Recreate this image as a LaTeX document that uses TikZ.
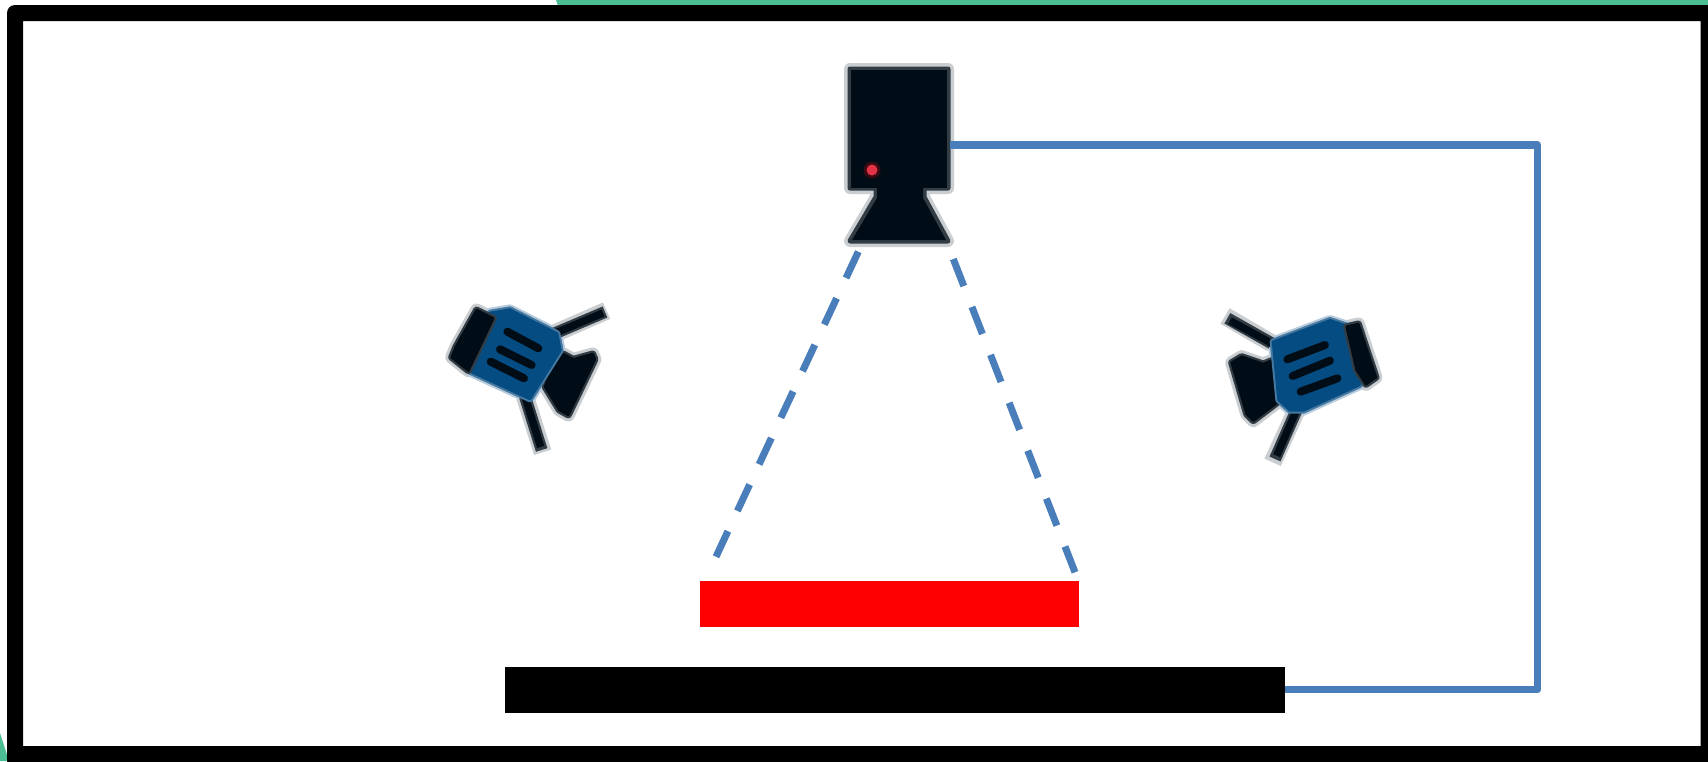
\documentclass[tikz,border=0pt]{standalone}
\definecolor{wire}{RGB}{74,126,187}
\definecolor{ink}{RGB}{1,13,22}
\definecolor{lampblue}{RGB}{4,76,130}
\definecolor{lampedge}{RGB}{70,120,160}
\definecolor{halo}{RGB}{203,206,209}
\definecolor{bluehalo}{RGB}{185,205,222}
\definecolor{rim}{RGB}{50,60,68}
\definecolor{teal}{RGB}{75,190,148}
\tikzset{
  x=1pt,y=-1pt,
  block/.style={inner sep=0pt,outer sep=0pt,draw=none,anchor=north west},
  wireline/.style={draw=wire,line width=7.5pt,line join=round},
  dashline/.style={draw=wire,line width=7pt,dash pattern=on 29pt off 22.4pt},
  haloshape/.style={draw=halo,line width=13pt,line join=round,fill=halo},
  rimshape/.style={draw=rim,line width=7pt,line join=round,fill=rim},
  inkshape/.style={fill=ink,draw=ink,line width=2.5pt,line join=round},
  rodhalo/.style={draw=halo,line width=18pt,line cap=butt},
  rodrim/.style={draw=rim,line width=12pt,line cap=butt},
  rodink/.style={draw=ink,line width=7.5pt,line cap=butt},
  lampstripe/.style={draw=ink,line width=8pt,line cap=round},
  bodyhalo/.style={draw=bluehalo,line width=10pt,line join=round},
  bodyedge/.style={draw=lampedge,line width=6pt,line join=round},
  bodyfill/.style={fill=lampblue,draw=lampblue,line width=2pt,line join=round},
}
\newcommand{\lampL}{%
  \def\lens{(375,235)--(400,222)--(430,238)--(488,222)--(495,238)--(415,405)--(388,390)--(345,320)--cycle}
  \def\bdy{(180,98)--(240,88)--(382,160)--(392,212)--(300,358)--(120,275)--cycle}
  \def\plate{(140,90)--(190,115)--(115,272)--(65,232)--(78,200)--cycle}
  \draw[rodhalo] (370,162)--(530,92); \draw[rodhalo] (285,350)--(338,517);
  \path[haloshape] \lens; \path[haloshape] \plate; \path[bodyhalo] \bdy;
  \draw[rodrim] (370,162)--(525,96);  \draw[rodrim] (285,350)--(335,510);
  \draw[rodink] (370,162)--(519,99);  \draw[rodink] (285,350)--(332,501);
  \path[rimshape] \lens; \path[inkshape] \lens;
  \path[bodyedge] \bdy; \path[bodyfill] \bdy;
  \path[rimshape] \plate; \path[inkshape] \plate;
  \draw[lampstripe] (232,155)--(325,205);
  \draw[lampstripe] (210,208)--(305,255);
  \draw[lampstripe] (182,245)--(282,295);
}
\newcommand{\lampR}{%
  \def\lens{(65,218)--(95,200)--(160,222)--(190,210)--(225,320)--(130,392)--(110,372)--cycle}
  \def\bdy{(188,155)--(360,90)--(420,110)--(450,285)--(280,362)--(240,362)--(205,330)--cycle}
  \def\plate{(410,110)--(445,102)--(498,262)--(468,283)--(440,240)--cycle}
  \draw[rodhalo] (185,160)--(45,78); \draw[rodhalo] (262,355)--(188,517);
  \path[haloshape] \lens; \path[haloshape] \plate; \path[bodyhalo] \bdy;
  \draw[rodrim] (185,160)--(52,85);  \draw[rodrim] (262,355)--(195,507);
  \draw[rodink] (185,160)--(60,92);  \draw[rodink] (262,355)--(200,497);
  \path[rimshape] \lens; \path[inkshape] \lens;
  \path[bodyedge] \bdy; \path[bodyfill] \bdy;
  \path[rimshape] \plate; \path[inkshape] \plate;
  \draw[lampstripe] (232,208)--(345,165);
  \draw[lampstripe] (248,258)--(360,212);
  \draw[lampstripe] (272,305)--(382,265);
}
\begin{document}
\begin{tikzpicture}[x=1pt,y=-1pt]
\useasboundingbox (0,0) rectangle (1708,761);
\fill[white] (0,0) rectangle (1708,761);
% green remnants at the edges
\fill[teal] (556,0)--(1708,0)--(1708,6)--(558,6)--cycle;
\fill[teal] (0,733)--(9,761)--(0,761)--cycle;
% frame
\fill[black,even odd rule] [rounded corners=8pt] (7,5) rectangle (1724,769) [sharp corners] (23,21) rectangle (1700.7,746);
% camera
\def\camout{(850,69)--(948,69)--(948,188)--(924,188)--(924,197)--(948,241)--(850,241)--(876,197)--(876,188)--(850,188)--cycle}
\path[draw=halo,line width=12pt,line join=round] \camout;
\path[fill=rim,draw=rim,line width=5pt,line join=round] \camout;
\node[block,fill=ink,minimum width=96pt,minimum height=118pt] (cam) at (851,70) {};
\path[fill=ink] (877,186)--(923,186)--(923,198)--(946,240)--(852,240)--(877,198)--cycle;
\node[circle,inner sep=0pt,minimum size=17pt,fill=red!22!ink] (led) at (872,170) {};
\node[circle,inner sep=0pt,minimum size=11pt,fill={rgb,255:red,225;green,50;blue,70}] (ledcore) at (872,170) {};
% bars
\node[block,fill=red,minimum width=379pt,minimum height=46pt] (part) at (700,581) {};
\node[block,fill=black,minimum width=780pt,minimum height=46.5pt] (stage) at (505,666.5) {};
% free ends
\coordinate (dl1) at (858.3,251.7);
\coordinate (dl2) at (716,556.7);
\coordinate (dr1) at (953.3,259);
\coordinate (dr2) at (1075,572.3);
\coordinate (turnA) at (1537.5,145);
\coordinate (turnB) at (1537.5,689.5);
\coordinate (camexit) at (950,145);
% connectors
\draw[wireline] (camexit) -- (turnA) -- (turnB) -- (stage.east |- turnB);
\draw[dashline] (dl1) -- (dl2);
\draw[dashline] (dr1) -- (dr2);
% lamps
\begin{scope}[shift={(430,280)},x=0.3333pt,y=-0.3333pt]
  \lampL
\end{scope}
\begin{scope}[shift={(1210,290)},x=0.3333pt,y=-0.3333pt]
  \lampR
\end{scope}
\end{tikzpicture}
\end{document}
